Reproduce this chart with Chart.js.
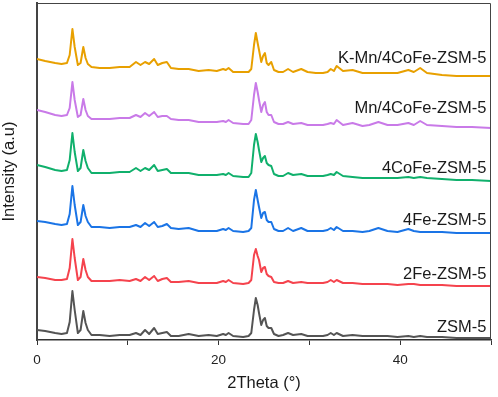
<!DOCTYPE html>
<html lang="en">
<head>
    <meta charset="UTF-8">
    <title>XRD patterns</title>
    <script src="https://cdn.jsdelivr.net/npm/chart.js"></script>
    <style>
        body { margin: 0; background: #fff; }
        #wrap { width: 498px; height: 397px; }
    </style>
</head>
<body>
    <div id="wrap"><canvas id="xrdChart"></canvas></div>

    <script>
        // 2theta positions (deg) shared by all patterns
        const twoTheta = [0, 0.9, 2.0, 2.7, 3.3, 3.6, 3.9, 4.15, 4.5, 4.8, 5.1, 5.35, 5.6, 6.0, 6.9, 8.0, 9.1, 10.2,
            10.9, 11.4, 11.9, 12.35, 12.9, 13.3, 13.8, 14.3, 14.75, 15.6, 16.7, 17.8, 18.9, 19.8, 20.5, 20.8, 21.1, 21.6,
            22.7, 23.3, 23.6, 23.9, 24.1, 24.3, 24.45, 24.7, 24.9, 25.1, 25.3, 25.5, 25.8, 26.1, 26.6, 27.1, 27.65, 28.2,
            29.1, 29.8, 30.7, 31.5, 32.0, 32.35, 32.7, 33.0, 33.7, 34.75, 35.85, 36.6, 37.6, 38.6, 39.7, 40.9, 41.5, 42.2,
            42.95, 44.6, 46.2, 47.9, 50]

        // intensities as plotted (already stacked), a.u.
        const zsm5 = [10, 9, 7, 6, 7, 18, 49, 30, 7, 10, 29, 17, 10, 5, 5, 4, 5, 5, 7, 5, 10, 6, 12, 6, 7, 8, 4, 4, 6, 4, 5, 4,
            6, 5, 7, 4, 3, 4, 7, 30, 42, 35, 27, 15, 20, 22, 14, 12, 12, 6, 4, 5, 7, 5, 6, 4, 4, 4, 5, 7, 5, 7, 4, 5, 4, 4, 4, 4,
            3, 4, 3, 4, 3, 3, 2, 2, 2]
        const fe2 = [63, 62, 60, 60, 61, 72, 101, 82, 60, 63, 81, 70, 63, 59, 59, 59, 60, 59, 61, 59, 63, 60, 64, 59, 61, 62,
            58, 58, 59, 57, 57, 57, 59, 58, 60, 57, 56, 57, 60, 85, 91, 84, 80, 68, 72, 73, 66, 64, 63, 58, 57, 57, 59, 57, 58,
            57, 57, 57, 58, 60, 58, 60, 57, 57, 56, 56, 56, 56, 55, 56, 56, 55, 55, 55, 54, 54, 54]
        const fe4 = [119, 118, 116, 115, 116, 126, 154, 135, 115, 118, 135, 124, 118, 113, 113, 112, 113, 113, 115, 113, 117,
            114, 118, 113, 114, 116, 112, 111, 112, 109, 109, 109, 111, 110, 112, 109, 108, 109, 112, 140, 150, 140, 133, 122,
            127, 128, 120, 118, 118, 111, 109, 109, 112, 109, 112, 109, 109, 109, 110, 112, 110, 113, 109, 109, 108, 109, 112,
            109, 108, 111, 109, 108, 108, 108, 107, 107, 107]
        const cofe4 = [175, 173, 170, 169, 170, 180, 207, 188, 169, 172, 190, 179, 172, 167, 167, 167, 168, 168, 172, 169,
            172, 170, 175, 169, 170, 171, 167, 167, 167, 165, 165, 165, 166, 165, 167, 164, 163, 163, 167, 195, 206, 198, 190,
            178, 182, 184, 177, 175, 174, 166, 164, 164, 167, 165, 166, 164, 164, 164, 165, 166, 165, 168, 164, 163, 162, 162,
            162, 162, 162, 163, 162, 163, 162, 161, 160, 160, 159]
        const mnCofe4 = [230, 228, 225, 224, 225, 232, 258, 240, 223, 225, 241, 230, 224, 221, 221, 221, 222, 222, 225, 223,
            227, 224, 228, 223, 224, 224, 221, 220, 220, 218, 218, 218, 219, 218, 220, 217, 216, 216, 220, 245, 257, 248, 240,
            228, 235, 238, 228, 225, 225, 218, 216, 216, 218, 216, 217, 215, 215, 215, 216, 217, 216, 220, 215, 217, 214, 215,
            218, 215, 215, 217, 215, 219, 215, 214, 213, 213, 212]
        const kMnCofe4 = [281, 279, 277, 276, 277, 285, 311, 293, 275, 277, 293, 282, 276, 273, 272, 272, 273, 273, 278, 275,
            278, 276, 281, 275, 277, 278, 272, 271, 271, 269, 270, 269, 271, 270, 272, 268, 268, 268, 271, 295, 307, 297, 290,
            278, 284, 287, 277, 275, 278, 270, 268, 268, 271, 268, 271, 268, 267, 267, 268, 271, 269, 274, 269, 270, 267, 267,
            267, 267, 267, 270, 268, 272, 267, 265, 264, 264, 264]

        const sampleNames = ['ZSM-5', '2Fe-ZSM-5', '4Fe-ZSM-5', '4CoFe-ZSM-5', 'Mn/4CoFe-ZSM-5', 'K-Mn/4CoFe-ZSM-5']
        const patterns = [zsm5, fe2, fe4, cofe4, mnCofe4, kMnCofe4]
        const colors = ['#545454', '#f5434d', '#1a74e6', '#10b06c', '#c97ae8', '#e8a000']
        // where each name sits (2theta of right edge, intensity)
        const nameX = 49.5
        const nameY = [13, 66, 120, 172, 232, 282]

        const xTickLabels = [0, 20, 40]
        const fontFamily = '"Liberation Sans", Arial, sans-serif'

        const datasets = patterns.map((ys, i) => ({
            label: sampleNames[i],
            data: ys.map((y, j) => ({ x: twoTheta[j], y: y })),
            borderColor: colors[i],
            borderWidth: 2,
            borderJoinStyle: 'round',
            pointRadius: 0,
            tension: 0,
            fill: false
        }))

        const framePlugin = {
            id: 'frameAndNames',
            afterDatasetsDraw(chart) {
                const { ctx, chartArea, scales } = chart
                ctx.save()
                ctx.strokeStyle = '#444'
                ctx.lineWidth = 1
                ctx.beginPath()
                ctx.moveTo(chartArea.left, chartArea.top + 0.5)
                ctx.lineTo(chartArea.right - 0.5, chartArea.top + 0.5)
                ctx.lineTo(chartArea.right - 0.5, chartArea.bottom)
                ctx.stroke()

                ctx.font = '16.5px ' + fontFamily
                ctx.fillStyle = '#1a1a1a'
                ctx.textAlign = 'right'
                ctx.textBaseline = 'middle'
                sampleNames.forEach((name, i) => {
                    ctx.fillText(name, scales.x.getPixelForValue(nameX), scales.y.getPixelForValue(nameY[i]))
                })
                ctx.restore()
            }
        }

        const ctx = document.getElementById('xrdChart').getContext('2d')
        const chart = new Chart(ctx, {
            type: 'line',
            data: { datasets: datasets },
            options: {
                responsive: true,
                maintainAspectRatio: false,
                animation: false,
                layout: { padding: { top: 3, right: 3, left: 0, bottom: 0 } },
                plugins: { legend: { display: false }, tooltip: { enabled: false } },
                scales: {
                    x: {
                        type: 'linear',
                        min: 0,
                        max: 50,
                        afterFit: (scale) => { scale.height = 57 },
                        border: { display: true, color: '#333', width: 1.5 },
                        grid: { display: true, drawOnChartArea: false, drawTicks: true, tickLength: 5, color: '#333', lineWidth: 1 },
                        ticks: {
                            stepSize: 10,
                            padding: 7,
                            color: '#222',
                            font: { family: fontFamily, size: 13.5 },
                            maxRotation: 0,
                            callback: (v) => xTickLabels.includes(v) ? String(v) : ''
                        },
                        title: {
                            display: true,
                            text: '2Theta (°)',
                            color: '#1a1a1a',
                            font: { family: fontFamily, size: 16.5 },
                            padding: { top: 0, bottom: 4 }
                        }
                    },
                    y: {
                        min: 0,
                        max: 337,
                        afterFit: (scale) => { scale.width = 37 },
                        border: { display: true, color: '#444', width: 2 },
                        grid: { display: false },
                        ticks: { display: false },
                        title: {
                            display: true,
                            text: 'Intensity (a.u)',
                            color: '#1a1a1a',
                            font: { family: fontFamily, size: 16.5 },
                            padding: { top: 0, bottom: 0 }
                        }
                    }
                }
            },
            plugins: [framePlugin]
        })
    </script>
</body>
</html>
